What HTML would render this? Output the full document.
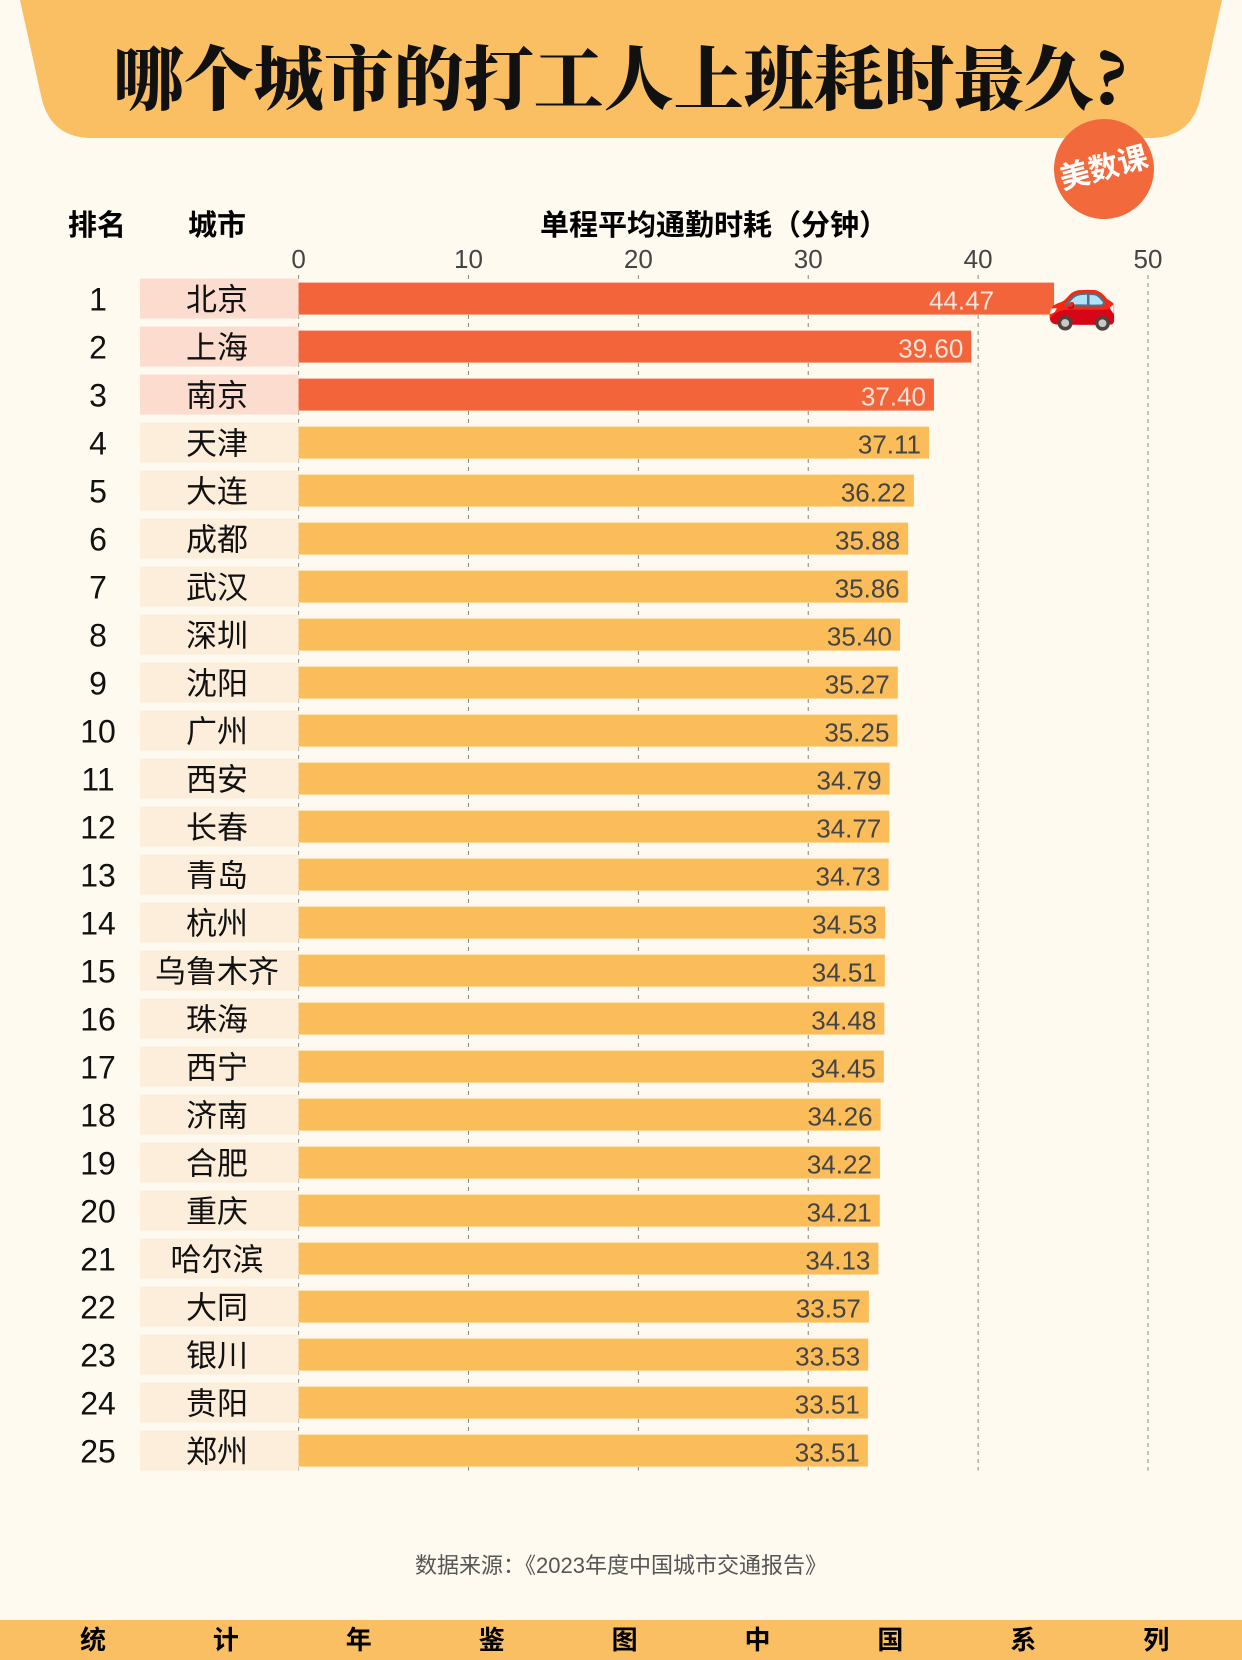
<!DOCTYPE html>
<html><head><meta charset="utf-8">
<style>
body{margin:0;width:1242px;height:1660px;background:#fffaef;overflow:hidden;font-family:"Liberation Sans","Noto Sans CJK SC",sans-serif;position:relative}
.abs{position:absolute}
</style></head><body>
<svg class="abs" style="left:0;top:0" width="1242" height="150">
<path d="M20 0 L1222 0 L1200 100 Q1190 138 1150 138 L92 138 Q52 138 42 100 Z" fill="#fbbf63"/>
</svg>
<div class="abs" style="left:0;top:30px;width:1242px;text-align:center;font-size:70px;font-weight:900;line-height:90px;font-family:'Noto Serif CJK SC',serif;color:#111">哪个城市的打工人上班耗时最久?</div>
<div class="abs" style="left:1054px;top:119px;width:100px;height:100px;border-radius:50%;background:#f26a3c;color:#fff;font-size:30px;font-weight:bold;line-height:100px;text-align:center;transform:rotate(-15deg)">美数课</div>
<div class="abs" style="left:68px;top:202px;font-size:29px;font-weight:bold">排名</div>
<div class="abs" style="left:188px;top:202px;font-size:29px;font-weight:bold">城市</div>
<div class="abs" style="left:540px;top:202px;font-size:29px;font-weight:bold">单程平均通勤时耗（分钟）</div>
<svg id="chart" class="abs" style="left:0;top:0" width="1242" height="1660"></svg>
<div class="abs" style="left:0;top:1548px;width:1242px;text-align:center;font-size:22px;color:#555">数据来源：《2023年度中国城市交通报告》</div>
<div class="abs" style="left:0;top:1620px;width:1242px;height:40px;background:#fbbf63"></div>
<div id="foot" class="abs" style="left:0;top:1620px;width:1242px;height:40px;font-size:26px;font-weight:bold;line-height:40px"></div>
<script>
const cities=["北京","上海","南京","天津","大连","成都","武汉","深圳","沈阳","广州","西安","长春","青岛","杭州","乌鲁木齐","珠海","西宁","济南","合肥","重庆","哈尔滨","大同","银川","贵阳","郑州"];
const values=[44.47,39.60,37.40,37.11,36.22,35.88,35.86,35.40,35.27,35.25,34.79,34.77,34.73,34.53,34.51,34.48,34.45,34.26,34.22,34.21,34.13,33.57,33.53,33.51,33.51];
const ticks=[0,10,20,30,40,50];
const footChars=["统","计","年","鉴","图","中","国","系","列"];
const NS="http://www.w3.org/2000/svg";
const svg=document.getElementById('chart');
const x0=298.6,x1=1148,y0=298.6,step=48,bh=32;
const xs=v=>x0+(v/50)*(x1-x0);
const ys=i=>y0+i*step;
function mk(t,a){const e=document.createElementNS(NS,t);for(const k in a)e.setAttribute(k,a[k]);svg.appendChild(e);return e;}
ticks.forEach(t=>{
 const l=mk('line',{x1:xs(t),x2:xs(t),y1:275,y2:ys(24)+bh/2+4,stroke:'#888','stroke-width':1,'stroke-dasharray':'4,4'});
 
 
 const tx=mk('text',{x:xs(t),y:268,'text-anchor':'middle','font-size':26,fill:'#444'});
 tx.textContent=t;
 
 
});
cities.forEach((c,i)=>{
 const top=i<3,y=ys(i);
 const box=mk('rect',{x:140,y:y-20,width:158.6,height:40,fill:top?'#fbdccf':'#fdeedb'});
 
 
 const r=mk('text',{x:98,y:y+12,'text-anchor':'middle','font-size':32,fill:'#111'});
 r.textContent=i+1;
 
 
 const ct=mk('text',{x:217,y:y+12,'text-anchor':'middle','font-size':31,fill:'#111'});
 ct.textContent=c;
 
 
 const b=mk('rect',{x:x0,y:y-bh/2,width:xs(values[i])-x0,height:bh,fill:top?'#f4643a':'#fbbd59'});
 
 
 const v=mk('text',{x:xs(values[i])-(i==0?60:8),y:y+11,'text-anchor':'end','font-size':26,fill:top?'#fde2d8':'#444'});
 v.textContent=values[i].toFixed(2);
 
 
});
const car=mk('text',{x:xs(values[0])-8,y:ys(0)+20,'font-size':58});
car.textContent='🚗';


const foot=document.getElementById('foot');
footChars.forEach((ch,i)=>{const s=document.createElement('span');s.textContent=ch;s.style.cssText='position:absolute;top:0;left:'+(93+i*132.9-13)+'px';


foot.appendChild(s);});
</script>
</body></html>
